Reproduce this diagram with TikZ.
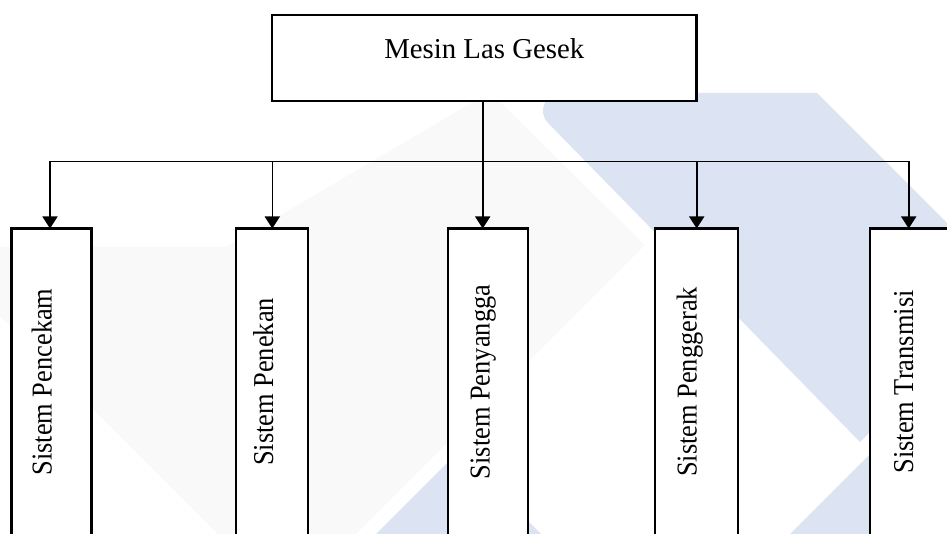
\documentclass[tikz,border=0pt]{standalone}
\usepackage{fontspec}
\setmainfont{Liberation Serif}
\newfontfamily\sidefont{Liberation Serif}[FakeStretch=0.917]
\usetikzlibrary{arrows.meta}
\definecolor{wmblue}{RGB}{220,227,242}
\definecolor{wmgray}{RGB}{249,249,250}
\tikzset{
  box/.style={draw=black, fill=white, line width=1.1pt, rectangle, inner sep=0pt, outer sep=0pt, anchor=north west},
  conn/.style={draw=black, line width=0.8pt},
  arr/.style={conn, -{Triangle[width=7.5pt,length=6pt]}},
  toplabel/.style={font=\fontsize{14.4}{17}\selectfont, anchor=base, inner sep=0pt},
  sidelabel/.style={font=\sidefont\fontsize{14.4}{17}\selectfont, rotate=90, anchor=base, inner sep=0pt},
}
\begin{document}
\begin{tikzpicture}[x=0.5pt,y=-0.5pt]
\useasboundingbox (0,0) rectangle (947,534);
% watermark shapes
\fill[wmgray] (0,247) -- (226,247) -- (490,92) -- (645,245) -- (356,534) -- (218,534) -- (0,316) -- cycle;
\fill[wmblue] (560.7,93) -- (817,93) -- (960,236) -- (960,342) -- (860,442) -- (548.2,123.2) .. controls (537,112) and (544.9,93) .. (560.7,93) -- cycle;
\fill[wmblue] (780,544) -- (880,444) -- (960,444) -- (960,544) -- cycle;
\fill[wmblue] (366,544) -- (458.5,451.5) -- (551,544) -- cycle;
% boxes
\node[box, minimum width=212.25pt, minimum height=43.1pt] (top) at (272,15) {};
\node[box, minimum width=40pt, minimum height=153.25pt] (b1) at (11.5,228.5) {};
\node[box, minimum width=36.3pt, minimum height=153.25pt] (b2) at (235.7,228.5) {};
\node[box, minimum width=40pt, minimum height=153.25pt] (b3) at (448,228.5) {};
\node[box, minimum width=41.35pt, minimum height=153.25pt] (b4) at (655,228.5) {};
\node[box, minimum width=43pt, minimum height=153.25pt] (b5) at (870,228.5) {};
% labels
\node[toplabel] (tl) at (484.25,58.3) {Mesin Las Gesek};
\node[sidelabel] (l1) at (51.7,382) {Sistem Pencekam};
\node[sidelabel] (l2) at (273,382) {Sistem Penekan};
\node[sidelabel] (l3) at (489.5,382) {Sistem Penyangga};
\node[sidelabel] (l4) at (696.7,382) {Sistem Penggerak};
\node[sidelabel] (l5) at (913,382) {Sistem Transmisi};
% junctions on the distribution line
\coordinate (j1) at (50,161.5);
\coordinate (j2) at (272.3,161.5);
\coordinate (j3) at (482.7,161.5);
\coordinate (j4) at (696.7,161.5);
\coordinate (j5) at (908.7,161.5);
% connectors
\draw[arr] (top.south -| j3) -- (j3 |- b3.north);
\draw[arr] (j3) -- (j1) -- (j1 |- b1.north);
\draw[arr] (j3) -- (j5) -- (j5 |- b5.north);
\draw[arr] (j2) -- (j2 |- b2.north);
\draw[arr] (j4) -- (j4 |- b4.north);
\end{tikzpicture}
\end{document}
